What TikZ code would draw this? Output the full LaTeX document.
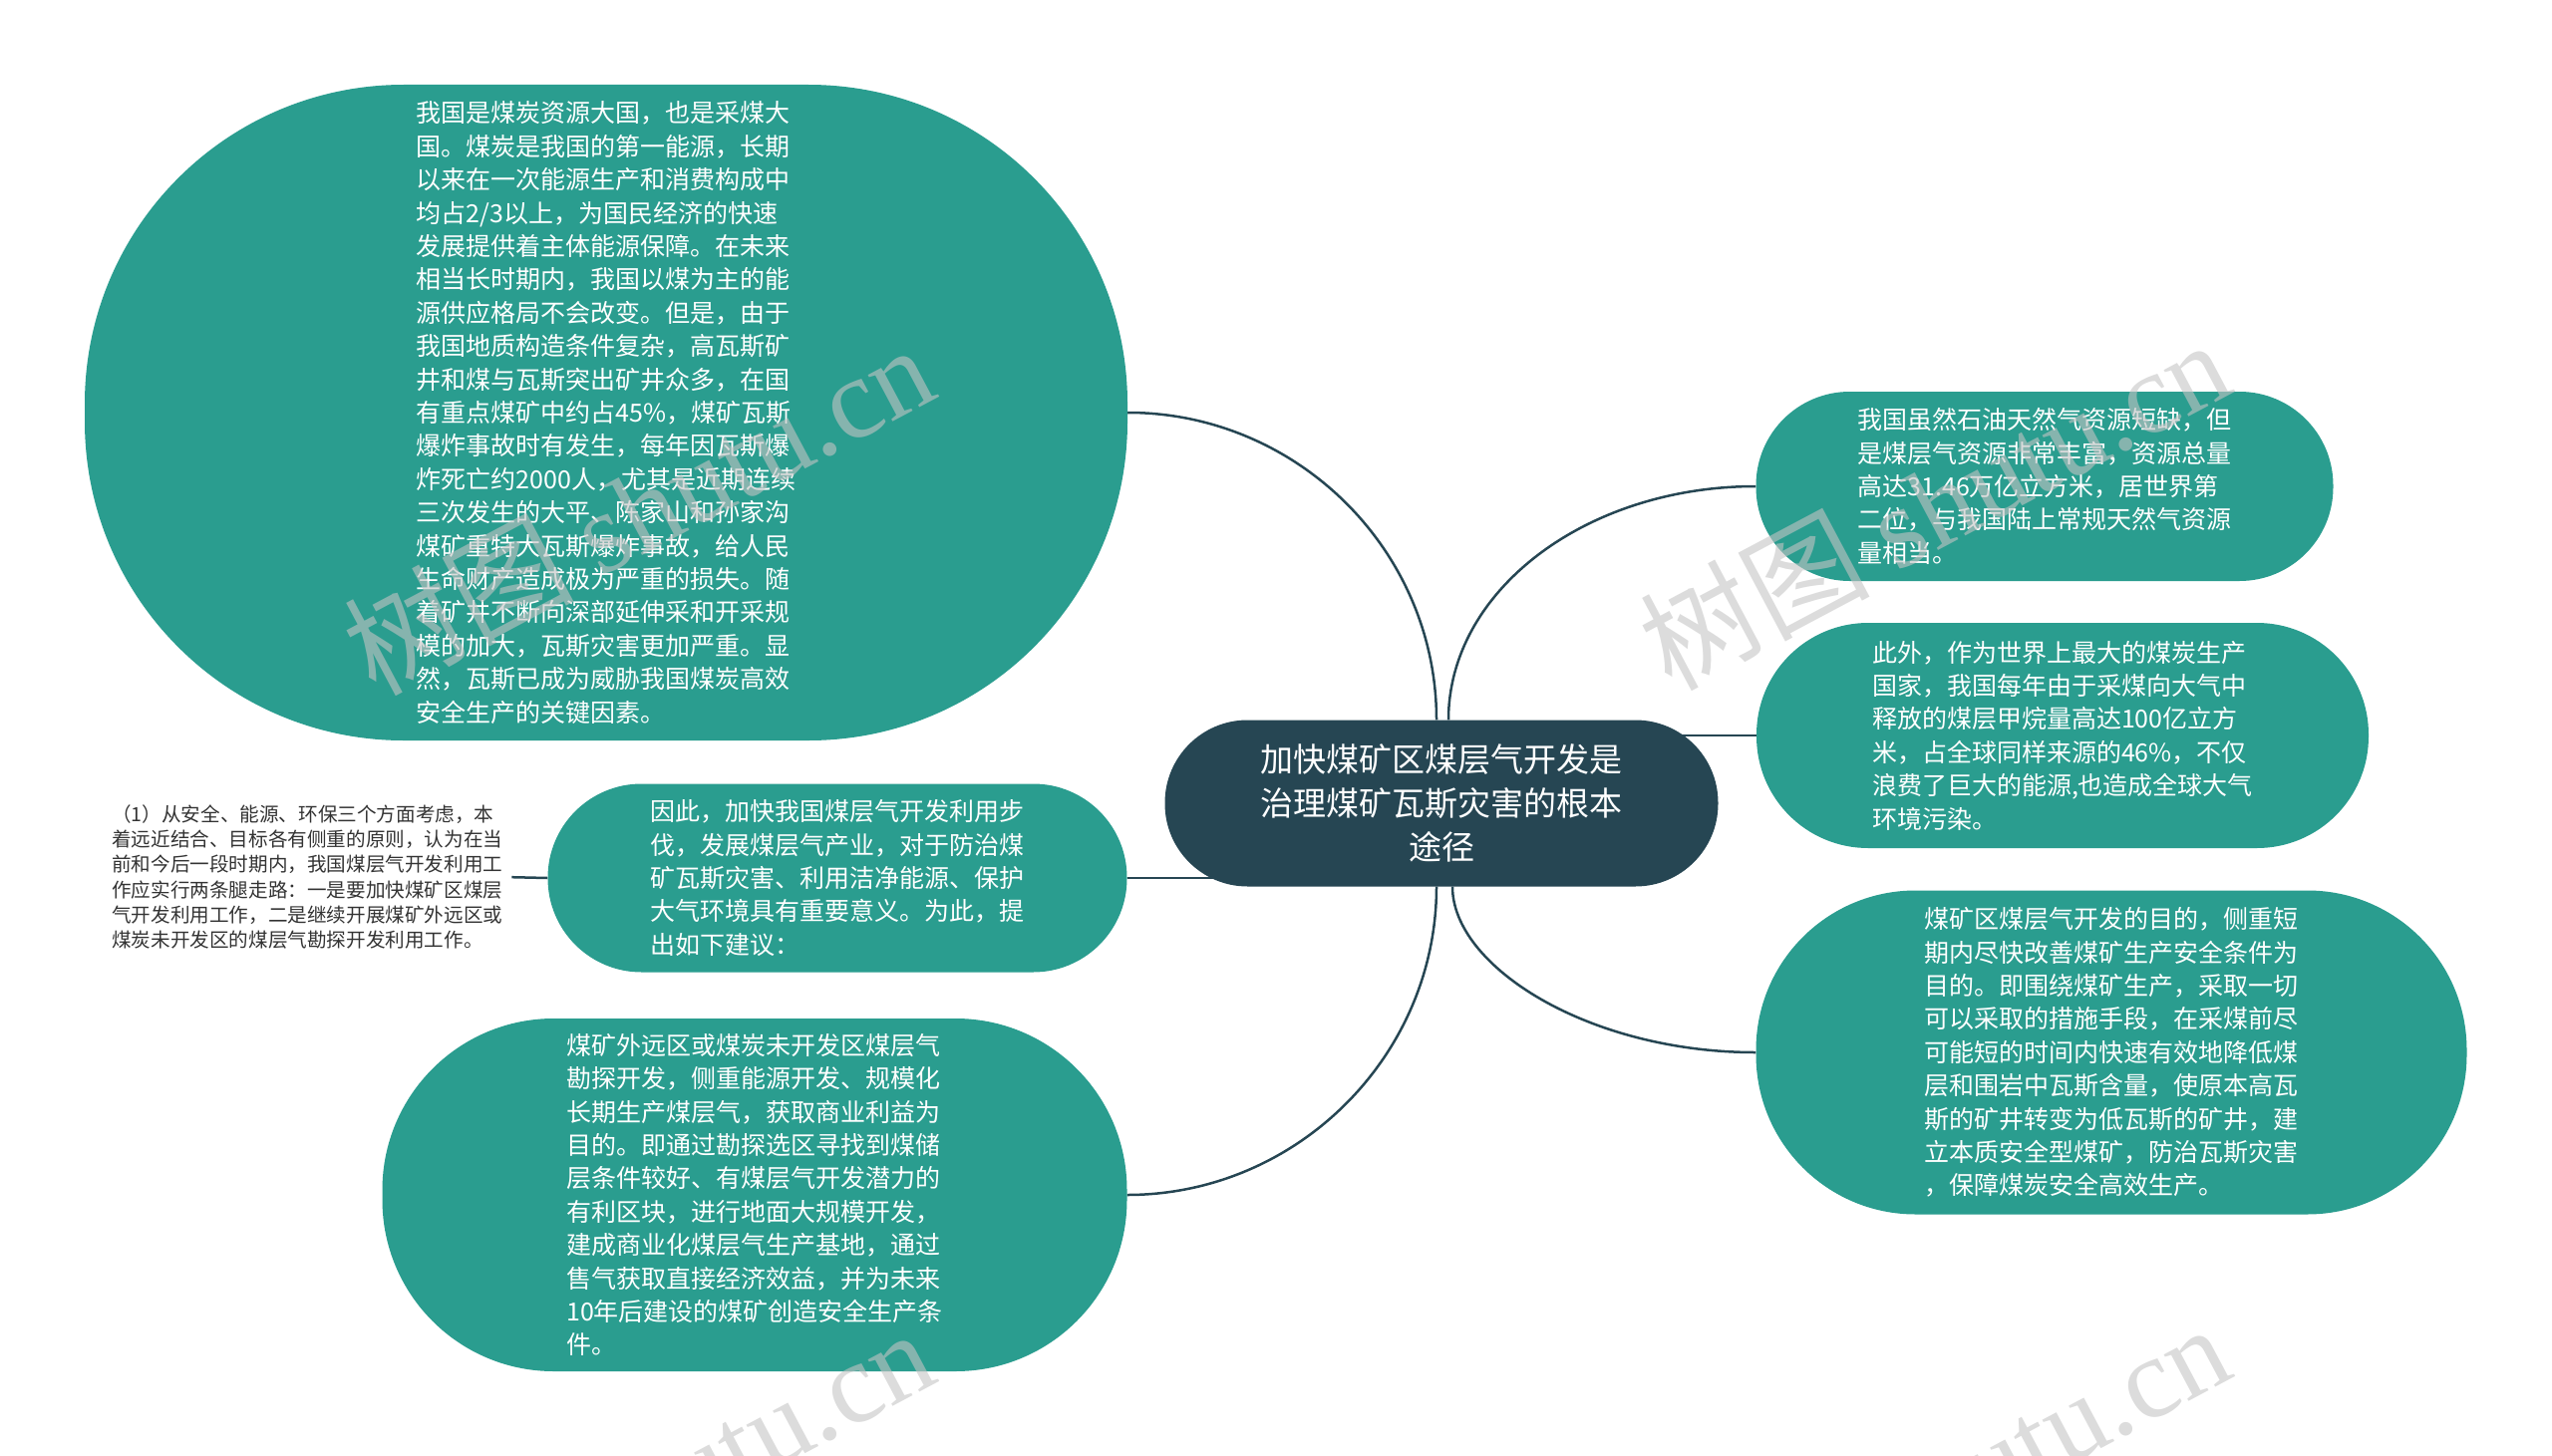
\documentclass[tikz,border=0pt]{standalone}
\usepackage{fontspec}
\setmainfont{Noto Sans CJK SC}
\newfontfamily\markfont{Liberation Serif}
\usetikzlibrary{backgrounds}
\definecolor{leafgreen}{HTML}{2A9D8F}
\definecolor{rootblue}{HTML}{264653}
\definecolor{notegray}{HTML}{333333}
\definecolor{markgray}{HTML}{C4C4C4}

\begin{document}
\begin{tikzpicture}[x=1pt, y=-1pt,
    leaf/.style={fill=leafgreen, text=white, align=left, inner sep=0pt,
      font=\fontsize{25}{33.4}\selectfont},
    hub/.style={fill=rootblue, text=white, align=center, inner sep=0pt,
      font=\fontsize{33}{44}\selectfont},
    note/.style={text=notegray, align=left, inner sep=0pt,
      font=\fontsize{19.6}{25.3}\selectfont},
    link/.style={draw=rootblue, line width=2.5pt},
    wmark/.style={rotate=28, text=markgray, opacity=0.6, inner sep=0pt,
      font=\fontsize{115}{115}\selectfont}]
    \useasboundingbox (0,0) rectangle (2560,1461);

    \node[hub, minimum width=555pt, minimum height=167pt, rounded corners=83pt] (root) at (1446,806)
      {加快煤矿区煤层气开发是\\治理煤矿瓦斯灾害的根本\\途径};

    \node[leaf, minimum width=1046pt, minimum height=658pt, rounded corners=320pt] (coal) at (608,414)
      {我国是煤炭资源大国，也是采煤大\\国。煤炭是我国的第一能源，长期\\以来在一次能源生产和消费构成中\\均占2/3以上，为国民经济的快速\\发展提供着主体能源保障。在未来\\相当长时期内，我国以煤为主的能\\源供应格局不会改变。但是，由于\\我国地质构造条件复杂，高瓦斯矿\\井和煤与瓦斯突出矿井众多，在国\\有重点煤矿中约占45\%，煤矿瓦斯\\爆炸事故时有发生，每年因瓦斯爆\\炸死亡约2000人，尤其是近期连续\\三次发生的大平、陈家山和孙家沟\\煤矿重特大瓦斯爆炸事故，给人民\\生命财产造成极为严重的损失。随\\着矿井不断向深部延伸采和开采规\\模的加大，瓦斯灾害更加严重。显\\然，瓦斯已成为威胁我国煤炭高效\\安全生产的关键因素。};

    \node[leaf, minimum width=581pt, minimum height=189pt, rounded corners=94pt] (advice) at (840,881)
      {因此，加快我国煤层气开发利用步\\伐，发展煤层气产业，对于防治煤\\矿瓦斯灾害、利用洁净能源、保护\\大气环境具有重要意义。为此，提\\出如下建议：};

    \node[note, anchor=west] (plan) at (112,880)
      {（1）从安全、能源、环保三个方面考虑，本\\着远近结合、目标各有侧重的原则，认为在当\\前和今后一段时期内，我国煤层气开发利用工\\作应实行两条腿走路：一是要加快煤矿区煤层\\气开发利用工作，二是继续开展煤矿外远区或\\煤炭未开发区的煤层气勘探开发利用工作。};

    \node[leaf, minimum width=747pt, minimum height=354pt, rounded corners=172pt] (remote) at (757,1199)
      {煤矿外远区或煤炭未开发区煤层气\\勘探开发，侧重能源开发、规模化\\长期生产煤层气，获取商业利益为\\目的。即通过勘探选区寻找到煤储\\层条件较好、有煤层气开发潜力的\\有利区块，进行地面大规模开发，\\建成商业化煤层气生产基地，通过\\售气获取直接经济效益，并为未来\\10年后建设的煤矿创造安全生产条\\件。};

    \node[leaf, minimum width=579pt, minimum height=190pt, rounded corners=94pt] (cbm) at (2051,488)
      {我国虽然石油天然气资源短缺，但\\是煤层气资源非常丰富，资源总量\\高达31.46万亿立方米，居世界第\\二位，与我国陆上常规天然气资源\\量相当。};

    \node[leaf, minimum width=614pt, minimum height=226pt, rounded corners=112pt] (methane) at (2069,738)
      {此外，作为世界上最大的煤炭生产\\国家，我国每年由于采煤向大气中\\释放的煤层甲烷量高达100亿立方\\米，占全球同样来源的46\%，不仅\\浪费了巨大的能源,也造成全球大气\\环境污染。};

    \node[leaf, minimum width=713pt, minimum height=325pt, rounded corners=160pt] (mine) at (2118,1056)
      {煤矿区煤层气开发的目的，侧重短\\期内尽快改善煤矿生产安全条件为\\目的。即围绕煤矿生产，采取一切\\可以采取的措施手段，在采煤前尽\\可能短的时间内快速有效地降低煤\\层和围岩中瓦斯含量，使原本高瓦\\斯的矿井转变为低瓦斯的矿井，建\\立本质安全型煤矿，防治瓦斯灾害\\，保障煤炭安全高效生产。};

    \begin{scope}[on background layer]
      \draw[link] (coal.east) .. controls +(170,0) and +(0,-170) .. ([xshift=-5pt]root.north);
      \draw[link] ([xshift=7pt]root.north) .. controls +(0,-130) and +(-170,0) .. (cbm.west);
      \draw[link] (methane.west) -- (methane.west -| root.center);
      \draw[link] (advice.east) -- (advice.east -| root.center);
      \draw[link] ([xshift=-5pt]root.south) .. controls +(0,170) and +(170,0) .. (remote.east);
      \draw[link] ([xshift=11pt]root.south) .. controls +(0,80) and +(-168,0) .. (mine.west);
      \draw[link, shorten <=9pt] (plan.east) -- (advice.west);
    \end{scope}

    \node[wmark] (markA) at (640,510) {树图 {\markfont shutu.cn}};
    \node[wmark] (markB) at (1940,505) {树图 {\markfont shutu.cn}};
    \node[wmark] (markC) at (640,1498) {树图 {\markfont shutu.cn}};
    \node[wmark] (markD) at (1940,1493) {树图 {\markfont shutu.cn}};
\end{tikzpicture}
\end{document}
